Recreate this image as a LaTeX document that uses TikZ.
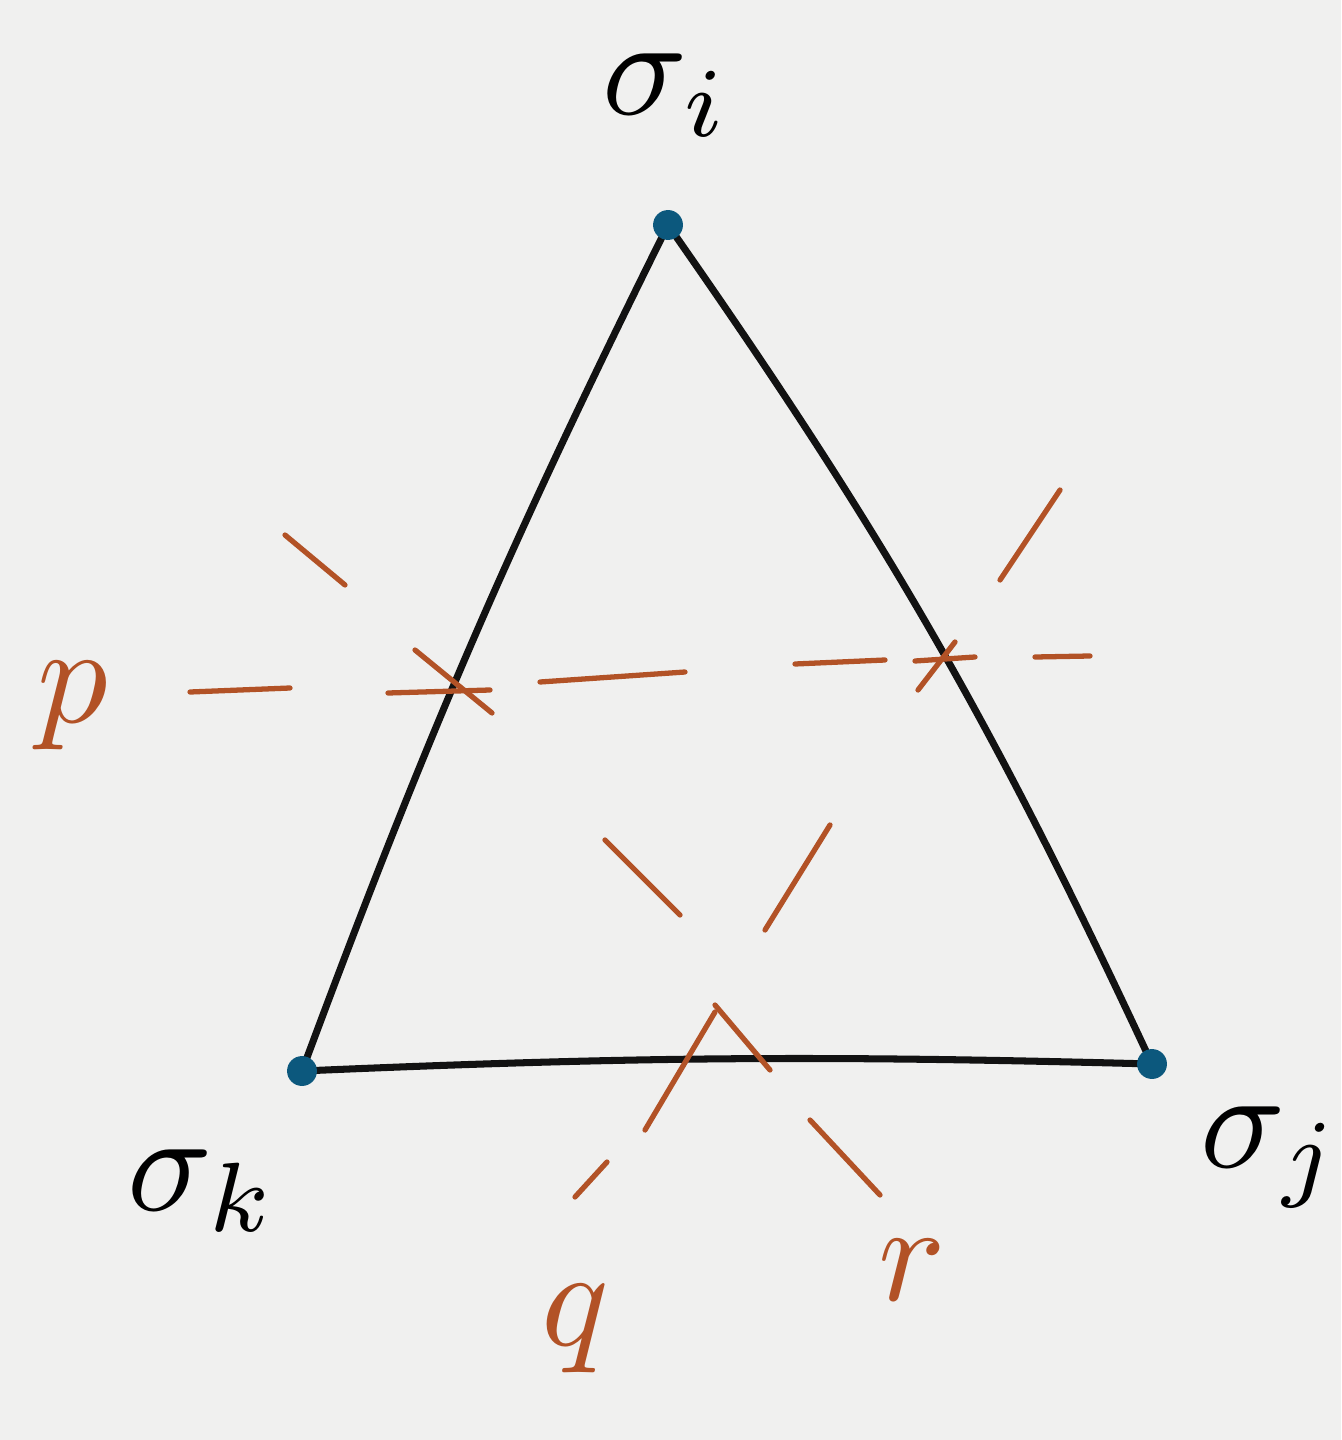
\documentclass[tikz,border=0pt]{standalone}
\definecolor{pen}{RGB}{18,18,18}
\definecolor{rust}{RGB}{178,82,38}
\definecolor{inkblue}{RGB}{12,88,125}
\definecolor{paper}{RGB}{240,240,239}
\tikzset{
  edge/.style={line width=2pt, pen, line cap=round, line join=round},
  cut/.style={line width=1.5pt, rust, line cap=round},
  vertex/.style={circle, fill=inkblue, inner sep=0pt, minimum size=8.5pt},
  lab/.style={scale=4, inner sep=0pt},
}

\begin{document}
\begin{tikzpicture}[x=0.01cm, y=-0.01cm]
    % Paper
    \fill[paper] (0,0) rectangle (1341,1440);
    \useasboundingbox (0,0) rectangle (1341,1440);

    % Corners
    \coordinate (si) at (668,225);
    \coordinate (sj) at (1152,1064);
    \coordinate (sk) at (302,1071);

    % Triangle
    \draw[edge] (sk) to[bend left=3] (si) to[bend left=5] (sj) to[bend right=2] (sk);

    % Line p
    \foreach \xa/\ya/\xb/\yb in {190/692/290/688, 388/693/490/690, 540/682/685/672,
                                 795/664/885/660, 915/661/975/657, 1035/657/1090/656}
        \draw[cut] (\xa,\ya) -- (\xb,\yb);

    % Line q
    \foreach \xa/\ya/\xb/\yb in {575/1197/607/1162, 645/1130/715/1012, 765/930/830/825,
                                 918/690/955/642, 1000/580/1060/490}
        \draw[cut] (\xa,\ya) -- (\xb,\yb);

    % Line r
    \foreach \xa/\ya/\xb/\yb in {285/535/345/585, 415/650/492/713, 605/840/680/915,
                                 715/1005/770/1070, 810/1120/880/1195}
        \draw[cut] (\xa,\ya) -- (\xb,\yb);

    % Corner dots
    \node[vertex] (vi) at (si) {};
    \node[vertex] (vj) at (sj) {};
    \node[vertex] (vk) at (sk) {};

    % Labels
    \node[lab, anchor=base west] (li) at (600,115) {$\sigma_i$};
    \node[lab, anchor=base west] (lj) at (1198,1167) {$\sigma_j$};
    \node[lab, anchor=base west] (lk) at (125,1210) {$\sigma_k$};
    \node[lab, rust, anchor=base west] (lp) at (35,722) {$p$};
    \node[lab, rust, anchor=base] (lq) at (575,1345) {$q$};
    \node[lab, rust, anchor=base] (lr) at (912,1300) {$r$};
\end{tikzpicture}
\end{document}
